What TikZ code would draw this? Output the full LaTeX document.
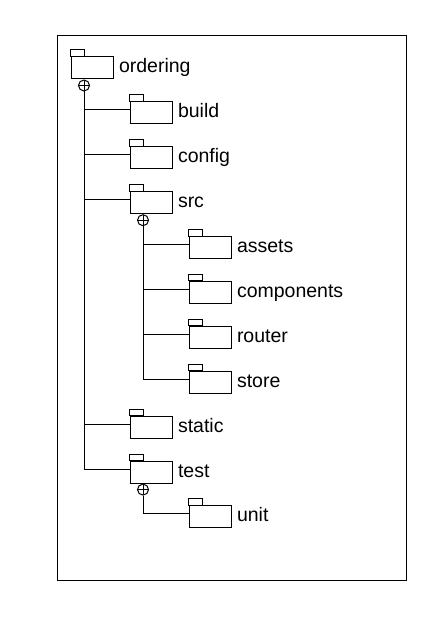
\documentclass[tikz,border=0pt]{standalone}
\usepackage{fontspec}
\setmainfont{Liberation Sans}
\usetikzlibrary{positioning}

\begin{document}
\begin{tikzpicture}[x=1pt, y=1pt,
  line width=1pt,
  folder/.style={rectangle, draw, inner sep=0pt, minimum width=42pt, minimum height=22pt},
  fname/.style={inner sep=0pt, font=\fontsize{19.5}{23}\selectfont},
  expand/.style={circle, draw, inner sep=0pt, minimum size=11pt,
    path picture={\draw (path picture bounding box.west) -- (path picture bounding box.east)
      (path picture bounding box.north) -- (path picture bounding box.south);}}]

  \useasboundingbox (0,0) rectangle (439,617);
  \draw (57,36) rectangle (406,581);

  % folders
  \node[folder] (ordering) at (92,549) {};
  \node[folder] (build) at (151,504.1) {};
  \node[folder] (config) at (151,459.2) {};
  \node[folder] (src) at (151,414.3) {};
  \node[folder] (assets) at (210,369.4) {};
  \node[folder] (components) at (210,324.5) {};
  \node[folder] (router) at (210,279.6) {};
  \node[folder] (store) at (210,234.7) {};
  \node[folder] (static) at (151,189.8) {};
  \node[folder] (test) at (151,144.9) {};
  \node[folder] (unit) at (210,100) {};

  \foreach \f in {ordering,build,config,src,assets,components,router,store,static,test,unit}
    \draw (\f.north west) rectangle ++(14,6.5);

  % names
  \foreach \f in {ordering,build,config,src,assets,components,router,store,static,test,unit}
    \node[fname, base right=5pt of \f, yshift=-5pt] (\f-name) {\f};

  % expand marks
  \node[expand, below=0pt of ordering, xshift=-8pt] (ordering-x) {};
  \node[expand, below=0pt of src, xshift=-8pt] (src-x) {};
  \node[expand, below=0pt of test, xshift=-8pt] (test-x) {};

  % connectors
  \foreach \f in {build,config,src,static,test}
    \draw (ordering-x.south) |- ([yshift=3pt]\f.west);
  \foreach \f in {assets,components,router,store}
    \draw (src-x.south) |- ([yshift=3pt]\f.west);
  \draw (test-x.south) |- ([yshift=3pt]unit.west);
\end{tikzpicture}
\end{document}
